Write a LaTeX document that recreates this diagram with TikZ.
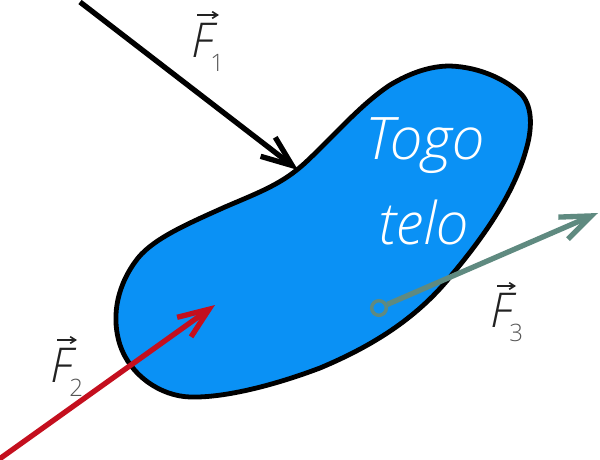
\documentclass[tikz,border=0pt]{standalone}
\usepackage{fontspec}
\setmainfont{Open Sans Light}
\usetikzlibrary{arrows.meta}
\definecolor{blobblue}{HTML}{0A91F5}
\definecolor{redarrow}{HTML}{C40F1E}
\definecolor{greenarrow}{HTML}{5F8A80}
\definecolor{labelink}{HTML}{222222}
\definecolor{subink}{HTML}{555555}
\newcommand{\fsubscript}[1]{\kern-3pt\raisebox{-10.5pt}{\fontsize{18}{18}\selectfont\upshape\color{subink}#1}}
\tikzset{
  x=0.75pt,y=-0.75pt,
  blob/.style={draw=black,fill=blobblue,line width=3.6pt,line join=round},
  force/.style={line width=4pt,-{Straight Barb[length=23pt,width=18pt,line width=4pt]}},
  bodytext/.style={text=white,font=\fontsize{44}{46}\selectfont\itshape,inner sep=0pt},
  flabel/.style={text=labelink,font=\fontsize{36}{36}\selectfont\itshape,inner sep=0pt,anchor=base west},
  vecbar/.style={labelink,line width=1.2pt,-{Straight Barb[length=4pt,width=5pt]}},
}
\begin{document}
\begin{tikzpicture}
\useasboundingbox (0,0) rectangle (600,460);
\path[blob] (450,66)
  .. controls (480,67) and (507,80) .. (522,95)
  .. controls (533,108) and (532,130) .. (526,150)
  .. controls (515,190) and (488,232) .. (450,277)
  .. controls (415,320) and (370,347) .. (320,368)
  .. controls (275,385) and (225,398) .. (190,397)
  .. controls (160,396) and (130,375) .. (120,345)
  .. controls (112,320) and (115,290) .. (135,262)
  .. controls (150,240) and (185,225) .. (225,207)
  .. controls (260,192) and (282,184) .. (305,163)
  .. controls (335,135) and (360,105) .. (390,85)
  .. controls (410,73) and (430,66) .. (450,66) -- cycle;
\node[bodytext] (togo) at (425,146) {Togo};
\node[bodytext] (telo) at (424,222) {telo};
\coordinate (f1s) at (80,2);
\coordinate (f1e) at (298,170);
\coordinate (f2s) at (-2,460);
\coordinate (f2e) at (215,305);
\coordinate (f3e) at (598,213);
\draw[force,black] (f1s) -- (f1e);
\draw[force,redarrow] (f2s) -- (f2e);
\node[circle,draw=greenarrow,line width=2.6pt,fill=blobblue,minimum size=11pt,inner sep=0pt] (f3s) at (379,308) {};
\draw[force,greenarrow] (f3s) -- (f3e);
\node[flabel] (F1) at (191,58) {F\fsubscript{1}};
\node[flabel] (F2) at (50,382) {F\fsubscript{2}};
\node[flabel] (F3) at (490,327) {F\fsubscript{3}};
\coordinate (v1a) at (197,15); \coordinate (v1b) at (219,15);
\coordinate (v2a) at (57,340); \coordinate (v2b) at (77,340);
\coordinate (v3a) at (497,286); \coordinate (v3b) at (516,286);
\draw[vecbar] (v1a) -- (v1b);
\draw[vecbar] (v2a) -- (v2b);
\draw[vecbar] (v3a) -- (v3b);
\end{tikzpicture}
\end{document}
